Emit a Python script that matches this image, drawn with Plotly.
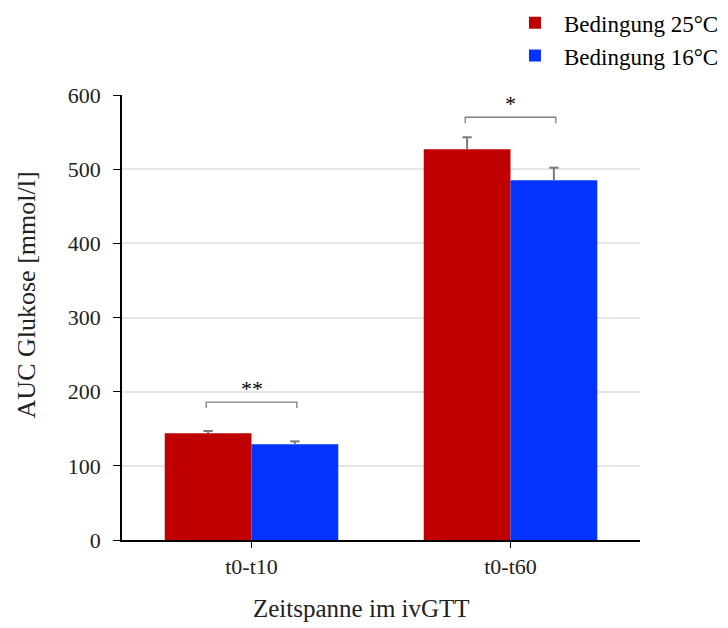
import plotly.graph_objects as go

categories = ["t0-t10", "t0-t60"]
series_names = ["Bedingung 25°C", "Bedingung 16°C"]
values_25 = [144, 527]
errors_25 = [3, 16]
values_16 = [129, 485]
errors_16 = [4, 17]
colors = ["#C00000", "#0433FF"]
sig_labels = ["**", "*"]
sig_heights = [186, 570]

x_pos = list(range(len(categories)))
bargap = 0.33
bar_w = (1 - bargap) / 2
offsets = [-bar_w / 2, bar_w / 2]
cap = 0.018

fig = go.Figure()
series = [(series_names[0], values_25, errors_25, colors[0]),
          (series_names[1], values_16, errors_16, colors[1])]
for name, vals, errs, col in series:
    fig.add_trace(go.Bar(x=x_pos, y=vals, name=name,
                         marker=dict(color=col, line=dict(width=0))))

# error bars (upper only), computed from the data arrays
ex, ey = [], []
for (name, vals, errs, col), off in zip(series, offsets):
    for xi, v, e in zip(x_pos, vals, errs):
        xc = xi + off
        ex += [xc, xc, None, xc - cap, xc + cap, None]
        ey += [v, v + e, None, v + e, v + e, None]
fig.add_trace(go.Scatter(x=ex, y=ey, mode="lines", line=dict(color="#7A7A7A", width=2),
                         showlegend=False, hoverinfo="skip"))

half = 0.175
for i, (lab, h) in enumerate(zip(sig_labels, sig_heights)):
    fig.add_shape(type="path",
                  path=f"M {i-half},{h-8} L {i-half},{h} L {i+half},{h} L {i+half},{h-8}",
                  line=dict(color="#808080", width=1.3))
    fig.add_annotation(x=i, y=h, text=lab, showarrow=False, yshift=14,
                       font=dict(family="Liberation Serif", size=22, color="black"))

# axis titles
fig.add_annotation(xref="paper", yref="paper", x=-0.185, y=0.55, text="AUC Glukose [mmol/l]",
                   textangle=-90, showarrow=False, xanchor="center", yanchor="middle",
                   font=dict(family="Liberation Serif", size=26, color="#222222"))
fig.add_annotation(xref="paper", yref="paper", x=0.463, y=-0.153, text="Zeitspanne im ivGTT",
                   showarrow=False, xanchor="center", yanchor="middle",
                   font=dict(family="Liberation Serif", size=25, color="#222222"))

fig.update_layout(
    width=728, height=628,
    margin=dict(l=122, r=88, t=95, b=88, autoexpand=False),
    paper_bgcolor="white", plot_bgcolor="white",
    barmode="group", bargap=bargap, bargroupgap=0,
    font=dict(family="Liberation Serif", color="#222222"),
    legend=dict(xref="container", yref="container", x=0.695, y=0.998,
                xanchor="left", yanchor="top",
                font=dict(size=23, family="Liberation Serif", color="black"),
                itemwidth=48, tracegroupgap=0, bgcolor="rgba(0,0,0,0)"),
    xaxis=dict(range=[-0.5, 1.5], tickvals=x_pos, ticktext=categories,
               showline=True, linecolor="black", linewidth=1.5,
               ticks="outside", ticklen=6, tickcolor="black",
               tickfont=dict(size=22), showgrid=False, zeroline=False),
    yaxis=dict(range=[0, 600], dtick=100, showline=True, linecolor="black", linewidth=1.5,
               ticks="outside", ticklen=7, tickcolor="black", ticklabelstandoff=8,
               tickfont=dict(size=22), showgrid=True, gridcolor="#E6E6E6", gridwidth=1.5,
               zeroline=False),
)
fig.write_html("out.html")
